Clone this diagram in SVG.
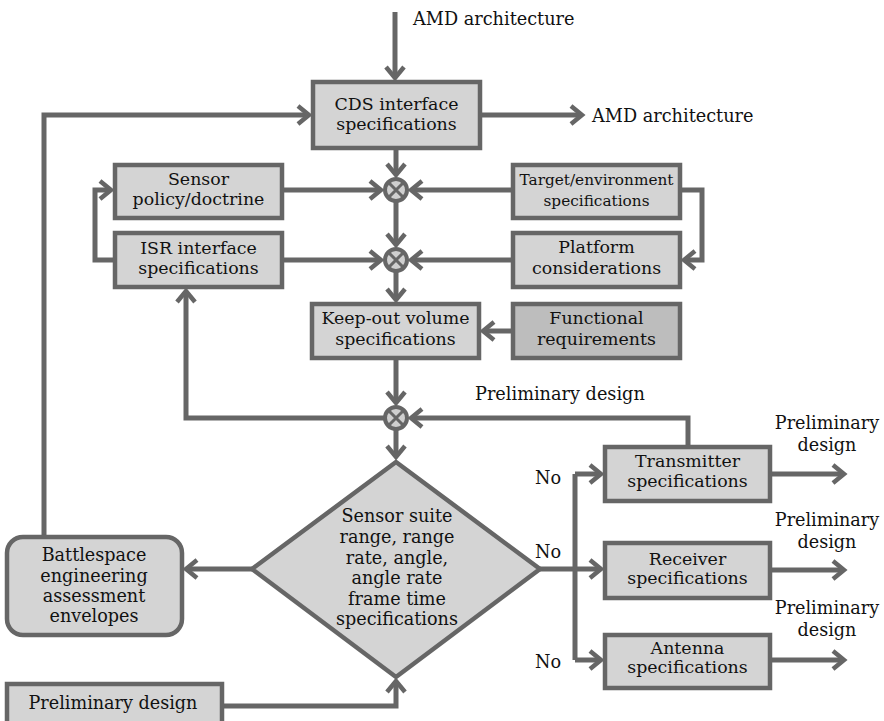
<svg xmlns="http://www.w3.org/2000/svg" width="884" height="721" viewBox="0 0 884 721">
  <defs>
    <style>
      .box { fill: #d4d4d4; stroke: #666; stroke-width: 4.5; }
      .dark { fill: #bdbdbd; }
      .t { font-family: 'DejaVu Serif', 'Liberation Serif', serif; font-size: 17.4px; fill: #111; text-anchor: middle; }
      .ts { font-size: 15.3px; }
      .tl { font-size: 17.6px; }
      .lbl { font-family: 'DejaVu Serif', 'Liberation Serif', serif; font-size: 17.7px; fill: #111; }
      .c { fill: none; stroke: #666; stroke-width: 5; }
      .a { marker-end: url(#arrow); }
      .sum circle { fill: #cfcfcf; stroke: #666; stroke-width: 4; }
      .sum path { stroke: #666; stroke-width: 3; fill: none; }
    </style>
    <marker id="arrow" markerUnits="userSpaceOnUse" markerWidth="20" markerHeight="22" refX="12" refY="9" orient="auto" overflow="visible">
      <path d="M1,0 L12,9 L1,18" fill="none" stroke="#666" stroke-width="4.5"/>
    </marker>
    <g id="sumj" class="sum">
      <circle r="11"/>
      <path d="M-7,-7 L7,7 M-7,7 L7,-7"/>
    </g>
  </defs>

  <!-- connectors -->
  <g id="connectors">
    <path class="c a" d="M395,12 V78"/>
    <path class="c a" d="M480,115 H582"/>
    <path class="c a" d="M396,148 V175"/>
    <path class="c a" d="M282,190 H381"/>
    <path class="c a" d="M513,190 H411"/>
    <path class="c a" d="M396,201 V245"/>
    <path class="c a" d="M282,260 H381"/>
    <path class="c a" d="M513,260 H411"/>
    <path class="c a" d="M396,271 V300"/>
    <path class="c a" d="M513,331 H483"/>
    <path class="c a" d="M396,358 V403"/>
    <path class="c a" d="M396,429 V457"/>
    <path class="c a" d="M385,418 H186 V291"/>
    <path class="c a" d="M115,260 H95 V190 H111"/>
    <path class="c a" d="M680,190 H702 V260 H684"/>
    <path class="c a" d="M688,447 V418 H411"/>
    <path class="c a" d="M252,569 H186"/>
    <path class="c a" d="M44,537 V115 H309"/>
    <path class="c a" d="M222,706 H396 V681"/>
    <path class="c a" d="M540,569 H601"/>
    <path class="c" d="M575,474 V660"/>
    <path class="c a" d="M575,474 H601"/>
    <path class="c a" d="M575,660 H601"/>
    <path class="c a" d="M770,474 H844"/>
    <path class="c a" d="M770,570 H844"/>
    <path class="c a" d="M770,660 H844"/>
  </g>

  <!-- summing junctions -->
  <use id="sum1" href="#sumj" x="396" y="190"/>
  <use id="sum2" href="#sumj" x="396" y="260"/>
  <use id="sum3" href="#sumj" x="396" y="418"/>

  <!-- free labels -->
  <g id="labels">
    <text class="lbl" x="413" y="25">AMD architecture</text>
    <text class="lbl" x="592" y="122">AMD architecture</text>
    <text class="lbl" x="475" y="400">Preliminary design</text>
    <text class="lbl" x="535" y="484">No</text>
    <text class="lbl" x="535" y="558">No</text>
    <text class="lbl" x="535" y="668">No</text>
    <text class="t tl" x="827" y="429">Preliminary</text>
    <text class="t tl" x="827" y="451">design</text>
    <text class="t tl" x="827" y="526">Preliminary</text>
    <text class="t tl" x="827" y="548">design</text>
    <text class="t tl" x="827" y="614">Preliminary</text>
    <text class="t tl" x="827" y="636">design</text>
  </g>

  <g id="cds">
    <rect class="box" x="313" y="82" width="167" height="66"/>
    <text class="t" x="396.5" y="110">CDS interface</text>
    <text class="t" x="396.5" y="130">specifications</text>
  </g>
  <g id="sensor-policy">
    <rect class="box" x="115" y="165" width="167" height="53"/>
    <text class="t" x="198.5" y="185">Sensor</text>
    <text class="t" x="198.5" y="205">policy/doctrine</text>
  </g>
  <g id="isr">
    <rect class="box" x="115" y="233" width="167" height="54"/>
    <text class="t" x="198.5" y="254">ISR interface</text>
    <text class="t" x="198.5" y="274">specifications</text>
  </g>
  <g id="target-env">
    <rect class="box" x="513" y="165" width="167" height="53"/>
    <text class="t ts" x="596.5" y="185">Target/environment</text>
    <text class="t ts" x="596.5" y="206">specifications</text>
  </g>
  <g id="platform">
    <rect class="box" x="513" y="233" width="167" height="54"/>
    <text class="t" x="596.5" y="253">Platform</text>
    <text class="t" x="596.5" y="274">considerations</text>
  </g>
  <g id="keep-out">
    <rect class="box" x="312" y="304" width="167" height="54"/>
    <text class="t" x="395.5" y="324">Keep-out volume</text>
    <text class="t" x="395.5" y="345">specifications</text>
  </g>
  <g id="functional">
    <rect class="box dark" x="513" y="304" width="167" height="54"/>
    <text class="t" x="596.5" y="324">Functional</text>
    <text class="t" x="596.5" y="345">requirements</text>
  </g>
  <g id="sensor-suite">
    <polygon class="box" points="396,462 540,569 396,677 252,569"/>
    <text class="t tl" x="397" y="522">Sensor suite</text>
    <text class="t tl" x="397" y="542.5">range, range</text>
    <text class="t tl" x="397" y="563.5">rate, angle,</text>
    <text class="t tl" x="397" y="584">angle rate</text>
    <text class="t tl" x="397" y="604.5">frame time</text>
    <text class="t tl" x="397" y="625">specifications</text>
  </g>
  <g id="battlespace">
    <rect class="box" x="7" y="537" width="175" height="98" rx="16"/>
    <text class="t tl" x="94" y="561">Battlespace</text>
    <text class="t tl" x="94" y="582">engineering</text>
    <text class="t tl" x="94" y="602">assessment</text>
    <text class="t tl" x="94" y="622">envelopes</text>
  </g>
  <g id="prelim-design">
    <rect class="box" x="7" y="684" width="215" height="50"/>
    <text class="t tl" x="113" y="709">Preliminary design</text>
  </g>
  <g id="transmitter">
    <rect class="box" x="605" y="447" width="165" height="54"/>
    <text class="t" x="687.5" y="467">Transmitter</text>
    <text class="t" x="687.5" y="487">specifications</text>
  </g>
  <g id="receiver">
    <rect class="box" x="605" y="543" width="165" height="55"/>
    <text class="t" x="687.5" y="565">Receiver</text>
    <text class="t" x="687.5" y="584">specifications</text>
  </g>
  <g id="antenna">
    <rect class="box" x="605" y="635" width="165" height="53"/>
    <text class="t" x="687.5" y="654">Antenna</text>
    <text class="t" x="687.5" y="673">specifications</text>
  </g>
</svg>
